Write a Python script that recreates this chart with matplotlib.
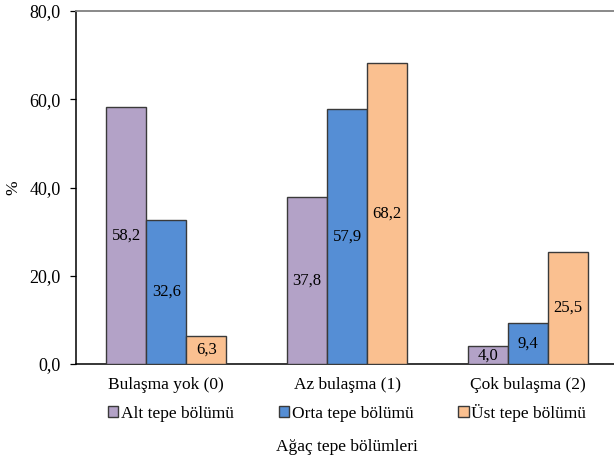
import matplotlib.pyplot as plt
import numpy as np

plt.rcParams['font.family'] = ['Liberation Serif', 'DejaVu Serif']

kategoriler = ['Bulaşma yok (0)', 'Az bulaşma (1)', 'Çok bulaşma (2)']
alt = [58.2, 37.8, 4.0]
orta = [32.6, 57.9, 9.4]
ust = [6.3, 68.2, 25.5]
seriler = ['Alt tepe bölümü', 'Orta tepe bölümü', 'Üst tepe bölümü']
renkler = ['#B3A2C7', '#558ED5', '#FAC090']

fig = plt.figure(figsize=(6.14, 4.58), dpi=100)
ax = fig.add_axes([0.1238, 0.2052, 0.8827, 0.7707])

x = np.arange(len(kategoriler))
w = 0.221
for i, (veri, ad, renk) in enumerate(zip([alt, orta, ust], seriler, renkler)):
    bars = ax.bar(x + (i - 1) * w, veri, w, color=renk, edgecolor='#3a3a3a',
                  linewidth=1.0, label=ad, zorder=3)
    for b, v in zip(bars, veri):
        ax.text(b.get_x() + b.get_width() / 2, v / 2, f'{v:.1f}'.replace('.', ','),
                ha='center', va='center', fontsize=12, zorder=4)

ax.set_xlim(-0.5, 2.5)
ax.set_ylim(0, 80)
ax.set_yticks([0, 20, 40, 60, 80])
ax.set_yticklabels(['0,0', '20,0', '40,0', '60,0', '80,0'], fontsize=13)
ax.set_xticks(x)
ax.set_xticklabels(kategoriler, fontsize=12.5)
ax.tick_params(axis='x', length=0, pad=9)
ax.tick_params(axis='y', length=4, width=0.9, pad=7)

ax.spines['right'].set_visible(False)
ax.spines['top'].set_color('#808080')
ax.spines['top'].set_linewidth(1.3)
ax.spines['left'].set_linewidth(1.1)
ax.spines['bottom'].set_linewidth(1.1)

ax.set_ylabel('%', fontsize=12.5, va='center')
ax.yaxis.set_label_coords(-0.115, 0.5)
ax.set_xlabel('Ağaç tepe bölümleri', fontsize=12.5, va='center')
ax.xaxis.set_label_coords(0.5, -0.235)

ax.legend(loc='center', bbox_to_anchor=(0.5, -0.139), ncol=3, frameon=False,
          fontsize=12.5, handlelength=0.6, handleheight=0.6, handletextpad=0.15,
          columnspacing=2.6, borderaxespad=0, borderpad=0)

fig.savefig('out.png', dpi=100)
